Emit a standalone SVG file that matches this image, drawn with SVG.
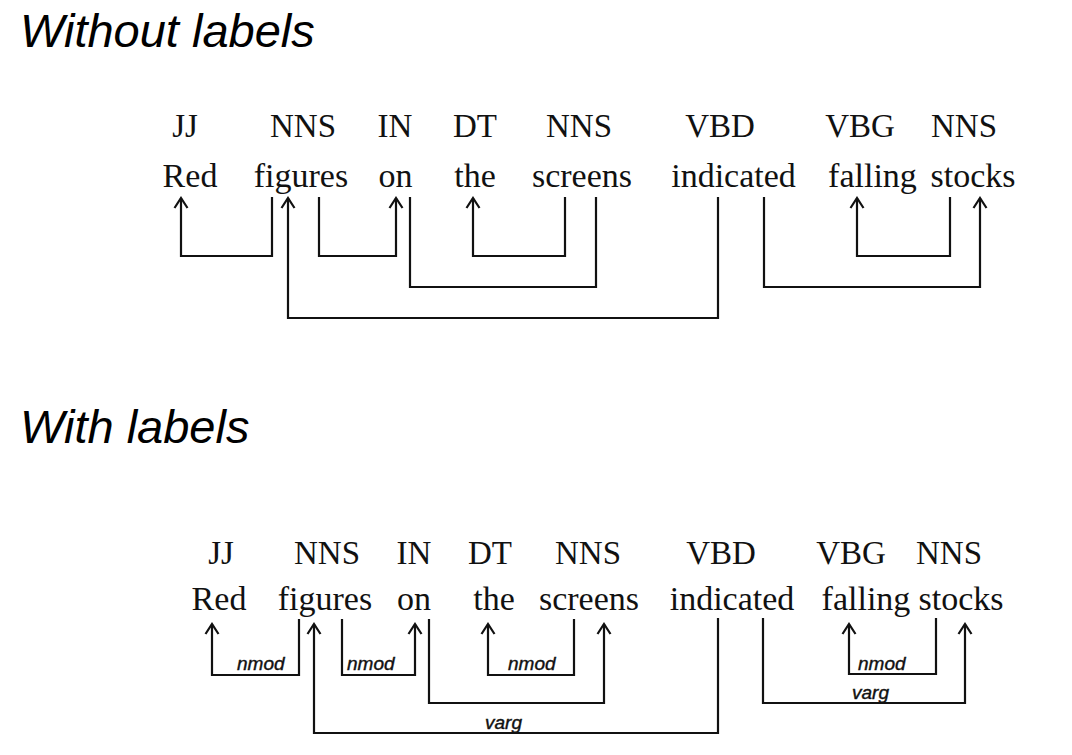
<svg xmlns="http://www.w3.org/2000/svg" width="1072" height="755" viewBox="0 0 1072 755">
<style>
.title{font-family:"Liberation Sans",Arial,sans-serif;font-style:italic;font-size:47px;fill:#000}
.tag{font-family:"Liberation Serif","Times New Roman",serif;font-size:33px;fill:#111;text-anchor:middle}
.word{font-family:"Liberation Serif","Times New Roman",serif;font-size:34px;fill:#111;text-anchor:middle}
.lbl{font-family:"Liberation Sans",Arial,sans-serif;font-style:italic;font-size:19px;fill:#111;stroke:#111;stroke-width:0.4}
.c{fill:none;stroke:#111;stroke-width:2.2}
.ca{fill:none;stroke:#111;stroke-width:2.2;marker-end:url(#ah)}
</style>
<defs>
<marker id="ah" markerUnits="userSpaceOnUse" viewBox="-13 -9 15 18" refX="0" refY="0" markerWidth="15" markerHeight="18" orient="auto">
<path d="M-10,-6.5 L0,0 L-10,6.5" fill="none" stroke="#111" stroke-width="2.2"/>
</marker>
</defs>
<rect width="1072" height="755" fill="#fff"/>
<text class="title" x="20" y="47">Without labels</text>
<text class="title" x="20" y="443">With labels</text>

<g id="top-nodes">
<g id="t-red"><text class="tag" x="185" y="137">JJ</text><text class="word" x="190" y="187">Red</text></g>
<g id="t-figures"><text class="tag" x="303" y="137">NNS</text><text class="word" x="301" y="187">figures</text></g>
<g id="t-on"><text class="tag" x="395" y="137">IN</text><text class="word" x="395.5" y="187">on</text></g>
<g id="t-the"><text class="tag" x="475" y="137">DT</text><text class="word" x="475" y="187">the</text></g>
<g id="t-screens"><text class="tag" x="579" y="137">NNS</text><text class="word" x="582" y="187">screens</text></g>
<g id="t-indicated"><text class="tag" x="720" y="137">VBD</text><text class="word" x="733.5" y="187">indicated</text></g>
<g id="t-falling"><text class="tag" x="860" y="137">VBG</text><text class="word" x="872.5" y="187">falling</text></g>
<g id="t-stocks"><text class="tag" x="964" y="137">NNS</text><text class="word" x="973" y="187">stocks</text></g>
</g>

<g id="top-connectors">
<path class="ca" d="M272,197 V256 H181 V198"/>
<path class="ca" d="M319,197 V256 H396 V198"/>
<path class="c" d="M410,197 V287 H596 V197"/>
<path class="ca" d="M565,197 V256 H473 V198"/>
<path class="ca" d="M718,197 V318 H288 V198"/>
<path class="ca" d="M764,197 V287 H980 V198"/>
<path class="ca" d="M950,197 V256 H857 V198"/>
</g>

<g id="bottom-nodes">
<g id="b-red"><text class="tag" x="221" y="564">JJ</text><text class="word" x="219" y="610">Red</text></g>
<g id="b-figures"><text class="tag" x="327" y="564">NNS</text><text class="word" x="325" y="610">figures</text></g>
<g id="b-on"><text class="tag" x="414" y="564">IN</text><text class="word" x="414" y="610">on</text></g>
<g id="b-the"><text class="tag" x="490" y="564">DT</text><text class="word" x="494" y="610">the</text></g>
<g id="b-screens"><text class="tag" x="588" y="564">NNS</text><text class="word" x="589" y="610">screens</text></g>
<g id="b-indicated"><text class="tag" x="721" y="564">VBD</text><text class="word" x="732" y="610">indicated</text></g>
<g id="b-falling"><text class="tag" x="851" y="564">VBG</text><text class="word" x="866" y="610">falling</text></g>
<g id="b-stocks"><text class="tag" x="949" y="564">NNS</text><text class="word" x="961" y="610">stocks</text></g>
</g>

<g id="bottom-connectors">
<path class="ca" d="M299,619 V675 H212 V624"/>
<path class="ca" d="M342,619 V675 H415 V624"/>
<path class="ca" d="M429,619 V703 H604 V624"/>
<path class="ca" d="M574,619 V675 H488 V624"/>
<path class="ca" d="M718,618 V733 H314 V624"/>
<path class="ca" d="M763,618 V703 H965 V624"/>
<path class="ca" d="M936,618 V674 H849 V624"/>
<text class="lbl" x="237" y="670">nmod</text>
<text class="lbl" x="347" y="670">nmod</text>
<text class="lbl" x="508" y="670">nmod</text>
<text class="lbl" x="858" y="670">nmod</text>
<text class="lbl" x="485" y="729">varg</text>
<text class="lbl" x="852" y="699">varg</text>
</g>
</svg>
